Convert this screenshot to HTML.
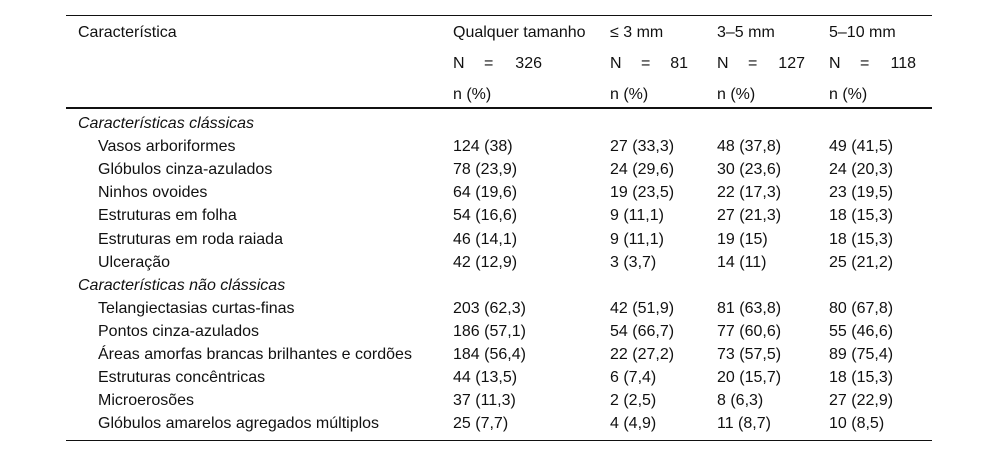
<!DOCTYPE html>
<html><head><meta charset="utf-8">
<style>
body{margin:0;width:1000px;height:456px;background:#fff;position:relative;overflow:hidden;font-family:"Liberation Sans",Arial,sans-serif;font-size:16px;color:#111}
.t{position:absolute;white-space:nowrap;line-height:16px}
.ln{position:absolute;left:66px;width:866px;background:#111}
</style></head><body>
<div class="ln" style="top:15px;height:1px"></div>
<div class="ln" style="top:107px;height:2px"></div>
<div class="ln" style="top:440px;height:1px"></div>
<div class="t" style="left:78px;top:25px">Característica</div>
<div class="t" style="left:453px;top:25px">Qualquer tamanho</div>
<div class="t" style="left:610px;top:25px">≤ 3 mm</div>
<div class="t" style="left:717px;top:25px">3–5 mm</div>
<div class="t" style="left:829px;top:25px">5–10 mm</div>
<div id="root"></div>
<script>
const colX=[453,610,717,829];
const nVals=["326","81","127","118"];
const nRight=[542,688,805,916];
const rows=[
["Características clássicas",null],
["Vasos arboriformes",["124 (38)","27 (33,3)","48 (37,8)","49 (41,5)"]],
["Glóbulos cinza-azulados",["78 (23,9)","24 (29,6)","30 (23,6)","24 (20,3)"]],
["Ninhos ovoides",["64 (19,6)","19 (23,5)","22 (17,3)","23 (19,5)"]],
["Estruturas em folha",["54 (16,6)","9 (11,1)","27 (21,3)","18 (15,3)"]],
["Estruturas em roda raiada",["46 (14,1)","9 (11,1)","19 (15)","18 (15,3)"]],
["Ulceração",["42 (12,9)","3 (3,7)","14 (11)","25 (21,2)"]],
["Características não clássicas",null],
["Telangiectasias curtas-finas",["203 (62,3)","42 (51,9)","81 (63,8)","80 (67,8)"]],
["Pontos cinza-azulados",["186 (57,1)","54 (66,7)","77 (60,6)","55 (46,6)"]],
["Áreas amorfas brancas brilhantes e cordões",["184 (56,4)","22 (27,2)","73 (57,5)","89 (75,4)"]],
["Estruturas concêntricas",["44 (13,5)","6 (7,4)","20 (15,7)","18 (15,3)"]],
["Microerosões",["37 (11,3)","2 (2,5)","8 (6,3)","27 (22,9)"]],
["Glóbulos amarelos agregados múltiplos",["25 (7,7)","4 (4,9)","11 (8,7)","10 (8,5)"]]
];
const root=document.getElementById('root');
function mk(txt,x,y,extra){const d=document.createElement('div');d.className='t';d.textContent=txt;d.style.left=x+'px';d.style.top=y+'px';if(extra)Object.assign(d.style,extra);root.appendChild(d);return d;}
for(let i=0;i<4;i++){
 let a=mk('N',colX[i],56);
 
 
 let b=mk('=',colX[i]+31,56);
 
 
 let c=mk(nVals[i],0,56,{left:'auto',right:(1000-nRight[i])+'px'});
 
 
 let p=mk('n (%)',colX[i],87);
 
 
}
rows.forEach((r,i)=>{
 const y=116+i*23.1;
 if(!r[1]){
  let s=mk(r[0],78,y,{fontStyle:'italic'});
  
  
 }else{
  let l=mk(r[0],98,y);
  
  
  r[1].forEach((v,j)=>{
   let c=mk(v,colX[j],y);
   
   
  });
 }
});
</script>
</body></html>
